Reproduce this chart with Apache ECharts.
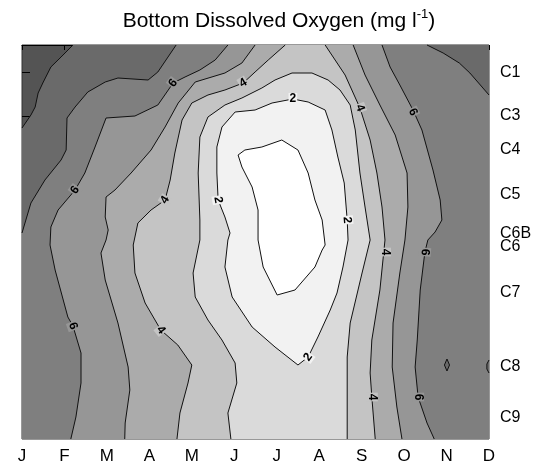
<!DOCTYPE html>
<html><head><meta charset="utf-8">
<script src="https://cdn.jsdelivr.net/npm/echarts@6/dist/echarts.min.js"></script>
<style>html,body{margin:0;padding:0;background:#fff}#c{width:558px;height:476px}</style>
</head><body><div id="c"></div>
<script>
// Axes
const months = ['J','F','M','A','M','J','J','A','S','O','N','D'];
const stations = ['C1','C3','C4','C5','C6B','C6','C7','C8','C9'];
const stationKm = [2.77, 7.1, 10.5, 15.0, 18.9, 20.17, 24.8, 32.17, 37.27];
const KM_MAX = 39.4;

// Contour lines: [monthIndex, distance km]
const line8 = [[1.20,0],[0.92,1.2],[0.68,2.2],[0.49,3.8],[0.38,4.8],[0.31,6.2],[0.21,7.0],[0,8.3]];
const line7L = [[3.63,0],[3.20,2.7],[2.97,3.5],[2.26,3.3],[1.96,3.7],[1.55,4.7],[1.25,6.2],[1.06,7.3],[1.04,10.5],[0.92,11.5],[0.54,13.5],[0.21,15.8],[0,18.8]];
const line7R = [[9.54,0],[9.92,0.8],[10.3,1.8],[10.55,2.8],[11,5.0]];
const loop7a = [[10.01,31.4],[10.07,32.0],[10.01,32.6],[9.95,32.0]];
const loop7b = [[11,31.5],[10.95,31.9],[10.95,32.4],[11,32.8]];
const line6L = [[1.15,39.4],[1.27,37.2],[1.39,33.8],[1.39,30.8],[1.20,28.1],[1.08,27.2],[0.78,22.5],[0.66,20.0],[0.68,18.2],[0.85,16.5],[1.25,14.5],[1.48,12.8],[1.72,10.2],[1.98,7.3],[2.66,7.1],[3.20,6.0],[3.56,3.8],[3.84,3.2],[4.19,2.5],[4.55,1.5],[4.85,0]];
const line6R = [[8.48,0],[8.67,2.2],[8.90,4.0],[9.21,6.5],[9.42,8.5],[9.68,12.5],[9.85,15.5],[9.89,17.5],[9.73,18.7],[9.56,19.5],[9.49,20.7],[9.38,24.5],[9.31,29.5],[9.26,32.2],[9.33,35.2],[9.54,37.8],[9.71,39.4]];
const line5L = [[2.42,39.4],[2.43,37.8],[2.54,34.5],[2.50,32.2],[2.26,27.8],[1.96,23.5],[1.86,20.8],[1.98,19.5],[2.03,18.5],[1.96,17.2],[1.98,15.2],[2.19,14.5],[2.57,12.8],[3.04,10.5],[3.37,8.2],[3.68,5.8],[4.08,3.7],[4.78,2.8],[5.18,1.8],[5.49,0]];
const line5R = [[7.80,0],[8.08,3.0],[8.43,6.0],[8.79,9.0],[9.07,12.8],[9.09,16.2],[9.02,19.5],[8.90,22.8],[8.74,27.8],[8.72,32.2],[8.83,36.2],[8.95,39.4]];
const line4L = [[3.65,39.4],[3.72,36.8],[3.91,33.8],[4.00,32.0],[3.67,30.0],[3.27,28.5],[2.90,25.8],[2.66,22.8],[2.62,20.0],[2.73,17.8],[3.04,16.5],[3.37,15.5],[3.49,13.5],[3.60,10.8],[3.77,7.5],[4.00,5.8],[4.38,5.0],[4.78,4.5],[5.21,3.8],[5.49,2.7],[5.80,1.5],[6.20,0]];
const line4R = [[7.14,0],[7.61,3.0],[7.96,6.3],[8.20,9.5],[8.36,12.8],[8.48,16.2],[8.55,19.5],[8.43,24.5],[8.24,29.5],[8.20,32.8],[8.24,35.2],[8.32,39.4]];
const line3 = [[4.92,39.4],[4.85,36.8],[5.06,33.8],[5.02,31.8],[4.71,29.5],[4.38,27.5],[4.08,25.2],[4.03,22.8],[4.19,19.5],[4.19,17.5],[4.15,12.8],[4.19,9.2],[4.38,7.2],[4.78,6.0],[5.18,5.3],[5.65,4.3],[5.96,3.5],[6.36,2.8],[6.83,2.8],[7.21,3.5],[7.49,4.5],[7.73,6.0],[7.85,8.5],[7.96,12.8],[8.08,16.2],[8.20,19.5],[8.01,22.8],[7.73,27.8],[7.66,31.2],[7.66,39.4]];
const line2 = [[4.62,15.5],[4.59,12.8],[4.59,10.2],[4.71,8.2],[5.02,6.7],[5.49,6.5],[5.89,5.8],[6.38,5.4],[6.74,5.7],[7.14,6.5],[7.30,8.5],[7.44,11.2],[7.59,13.8],[7.66,17.5],[7.68,19.5],[7.56,22.2],[7.42,24.8],[7.26,26.5],[6.97,29.2],[6.74,31.2],[6.50,32.0],[5.96,30.2],[5.42,28.2],[4.95,25.2],[4.78,22.2],[4.85,19.5],[4.90,18.8],[4.78,17.2]];
const line1 = [[5.09,11.0],[5.25,10.5],[5.65,10.2],[6.12,9.5],[6.50,10.5],[6.74,12.8],[6.90,15.5],[7.07,17.5],[7.14,20.0],[7.07,20.5],[6.90,22.2],[6.43,24.5],[6.01,25.0],[5.68,22.2],[5.56,19.5],[5.56,16.5],[5.42,14.2],[5.18,12.2]];

// Contour labels: [monthIndex, km, text, angle(deg)]
const contourLabels = [
  [3.56,3.8,'6',53],[5.21,3.8,'4',31],[1.25,14.5,'6',54],[1.20,28.1,'6',-70],
  [3.37,15.5,'4',58],[3.27,28.5,'4',-52],[4.62,15.5,'2',-80],[6.38,5.4,'2',0],
  [7.66,17.5,'2',-85],[6.74,31.2,'2',54],[7.96,6.3,'4',-69],[8.55,20.7,'4',-90],
  [8.24,35.2,'4',-90],[9.21,6.7,'6',-64],[9.49,20.7,'6',-95],[9.33,35.2,'6',-90]
];

// Band shades (value ranges)
const shadeAbove8 = '#545454';
const shade = {'7-8':'#6a6a6a','6-7':'#7f7f7f','5-6':'#969696','4-5':'#ababab','3-4':'#c4c4c4','2-3':'#dadada','1-2':'#f2f2f2','0-1':'#ffffff'};
const labelGap = {'2': shade['1-2'], '4': shade['3-4'], '6': shade['5-6']};

const regions = [
  {pts: [...line8, [0,KM_MAX],[11,KM_MAX],[11,0]], fill: shade['7-8']},
  {pts: [...line7L, [0,KM_MAX],[11,KM_MAX], ...line7R.slice().reverse()], fill: shade['6-7']},
  {pts: loop7a, fill: shade['7-8']},
  {pts: [...loop7b, [11,31.5]], fill: shade['7-8']},
  {pts: [...line6L, ...line6R], fill: shade['5-6']},
  {pts: [...line5L, ...line5R], fill: shade['4-5']},
  {pts: [...line4L, ...line4R], fill: shade['3-4']},
  {pts: line3, fill: shade['2-3']},
  {pts: line2, fill: shade['1-2']},
  {pts: line1, fill: shade['0-1']}
];
const contours = [
  {pts: line8}, {pts: line7L}, {pts: line7R}, {pts: loop7a, closed: true}, {pts: loop7b},
  {pts: line6L}, {pts: line6R}, {pts: line5L}, {pts: line5R}, {pts: line4L}, {pts: line4R},
  {pts: line3}, {pts: line2, closed: true}, {pts: line1, closed: true}
];

const chart = echarts.init(document.getElementById('c'), null, {renderer: 'canvas'});
const FONT = 'Liberation Sans, Arial, sans-serif';

chart.setOption({
  animation: false,
  backgroundColor: '#fff',
  title: {
    text: 'Bottom Dissolved Oxygen (mg l{s|-1})',
    left: 'center', top: 3,
    textStyle: {
      fontFamily: FONT, fontSize: 21, fontWeight: 'normal', color: '#000', lineHeight: 27,
      rich: {s: {fontFamily: FONT, fontSize: 13, color: '#000', verticalAlign: 'top', lineHeight: 27}}
    }
  },
  grid: {left: 22, right: 69, top: 45, bottom: 37, show: true, backgroundColor: shadeAbove8, borderColor: '#333', borderWidth: 1},
  xAxis: {
    type: 'value', min: 0, max: 11, interval: 1,
    axisLine: {show: true, lineStyle: {color: '#000', width: 1}},
    axisTick: {show: true, length: 5, lineStyle: {color: '#000'}},
    axisLabel: {formatter: v => months[v], fontFamily: FONT, fontSize: 17, color: '#000', margin: 9},
    splitLine: {show: false}
  },
  yAxis: {
    type: 'value', position: 'right', inverse: true, min: 0, max: KM_MAX,
    axisLine: {show: false},
    axisTick: {show: true, length: 8, lineStyle: {color: '#000'}, customValues: stationKm},
    axisLabel: {
      customValues: stationKm, fontFamily: FONT, fontSize: 16, color: '#000', margin: 11,
      formatter: v => { let b = 0; stationKm.forEach((k, i) => { if (Math.abs(k - v) < Math.abs(stationKm[b] - v)) b = i; }); return stations[b]; }
    },
    splitLine: {show: false}
  },
  series: [
    {
      type: 'custom', coordinateSystem: 'cartesian2d', silent: true, z: 1,
      data: regions.map((r, i) => [r.pts[0][0], r.pts[0][1], i]),
      encode: {x: 0, y: 1},
      renderItem: (params, api) => {
        const r = regions[api.value(2)];
        return {type: 'polygon', shape: {points: r.pts.map(p => api.coord(p))}, style: {fill: r.fill, stroke: null}};
      }
    },
    {
      type: 'custom', coordinateSystem: 'cartesian2d', silent: true, z: 2,
      data: contours.map((c, i) => [c.pts[0][0], c.pts[0][1], i]),
      encode: {x: 0, y: 1},
      renderItem: (params, api) => {
        const c = contours[api.value(2)];
        return {type: c.closed ? 'polygon' : 'polyline', shape: {points: c.pts.map(p => api.coord(p))},
          style: {fill: null, stroke: '#111', lineWidth: 1}};
      }
    },
    {
      type: 'custom', coordinateSystem: 'cartesian2d', silent: true, z: 3,
      data: contourLabels.map(l => [l[0], l[1], l[3]]),
      encode: {x: 0, y: 1},
      renderItem: (params, api) => {
        const pt = api.coord([api.value(0), api.value(1)]);
        const t = contourLabels[params.dataIndex][2];
        return {type: 'text', x: pt[0], y: pt[1], rotation: api.value(2) * Math.PI / 180,
          style: {text: t, fill: '#000', font: 'bold 12px ' + FONT, align: 'center', verticalAlign: 'middle',
            backgroundColor: labelGap[t], padding: [0, 1]}};
      }
    }
  ]
});
</script></body></html>
